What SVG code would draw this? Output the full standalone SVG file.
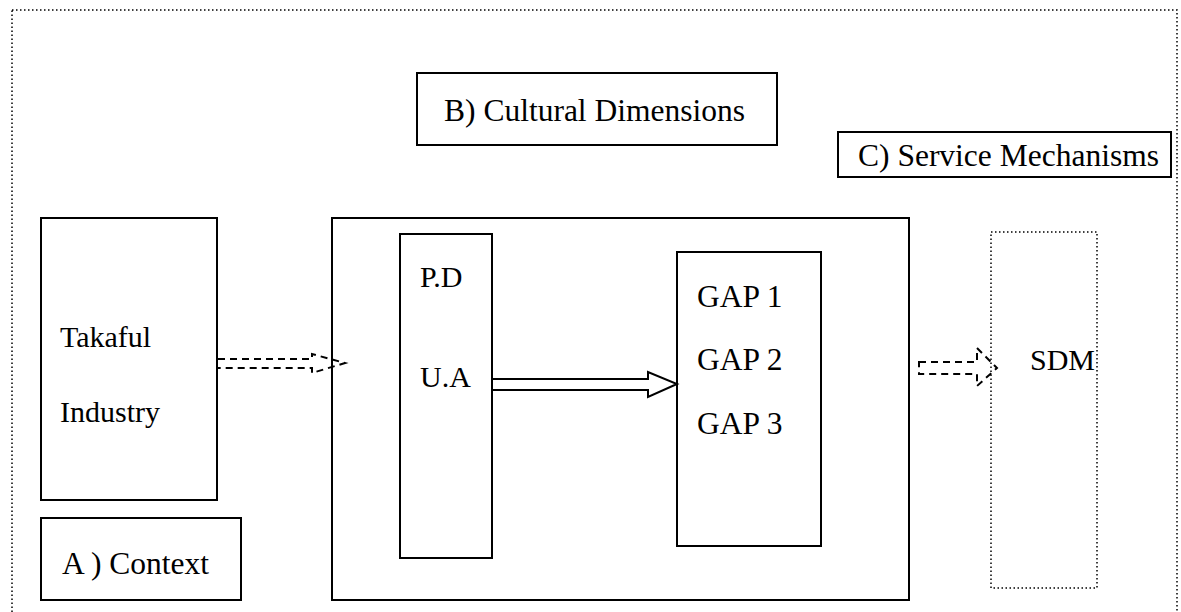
<svg xmlns="http://www.w3.org/2000/svg" width="1181" height="612" viewBox="0 0 1181 612">
  <style>
    .box { fill: #fff; stroke: #000; stroke-width: 2; }
    .dotted { fill: none; stroke: #000; stroke-width: 1.5; stroke-dasharray: 1.5 2.5; }
    text { font-family: 'Liberation Serif', 'Times New Roman', 'DejaVu Serif', serif; font-size: 30px; fill: #000; }
    text.big { font-size: 31.5px; }
    text.mid { font-size: 31.5px; }
    .dash { fill: none; stroke: #000; stroke-width: 2; stroke-dasharray: 7 5; }
    .solid { fill: #fff; stroke: #000; stroke-width: 2; }
  </style>
  <rect width="1181" height="612" fill="#fff"/>

  <!-- frame -->
  <rect class="dotted" x="12" y="10" width="1165" height="640"/>

  <g id="cultural-dimensions">
    <rect class="box" x="417" y="73" width="360" height="72"/>
    <text class="big" x="444" y="121">B) Cultural Dimensions</text>
  </g>

  <g id="service-mechanisms">
    <rect class="box" x="838" y="132" width="333" height="45"/>
    <text class="big" x="858" y="166">C) Service Mechanisms</text>
  </g>

  <g id="takaful-industry">
    <rect class="box" x="41" y="218" width="176" height="282"/>
    <text x="60" y="347">Takaful</text>
    <text x="60" y="422">Industry</text>
  </g>

  <g id="context">
    <rect class="box" x="41" y="518" width="200" height="82"/>
    <text class="mid" x="62" y="574">A ) Context</text>
  </g>

  <g id="dimensions-frame">
    <rect class="box" x="332" y="218" width="577" height="382"/>
  </g>

  <g id="pd-ua">
    <rect class="box" x="400" y="234" width="92" height="324"/>
    <text x="420" y="287">P.D</text>
    <text x="420" y="387">U.A</text>
  </g>

  <g id="gaps">
    <rect class="box" x="677" y="252" width="144" height="294"/>
    <text class="mid" x="697" y="307">GAP 1</text>
    <text class="mid" x="697" y="370">GAP 2</text>
    <text class="mid" x="697" y="434">GAP 3</text>
  </g>

  <g id="sdm">
    <rect class="dotted" x="991" y="232" width="106" height="356"/>
    <text x="1030" y="370">SDM</text>
  </g>

  <g id="connectors">
    <!-- Takaful industry to dimensions: dashed block arrow -->
    <path class="dash" d="M218 359 H312 V354 L345 363 L312 373 V368 H218"/>
    <!-- P.D / U.A to gaps: hollow block arrow -->
    <path class="solid" d="M493 379 H648 V372 L677 384 L648 397 V390 H493"/>
    <!-- gaps to SDM: dashed block arrow -->
    <path class="dash" d="M919 362 H977 V348 L997 368 L977 386 V374 H919 Z"/>
  </g>
</svg>
